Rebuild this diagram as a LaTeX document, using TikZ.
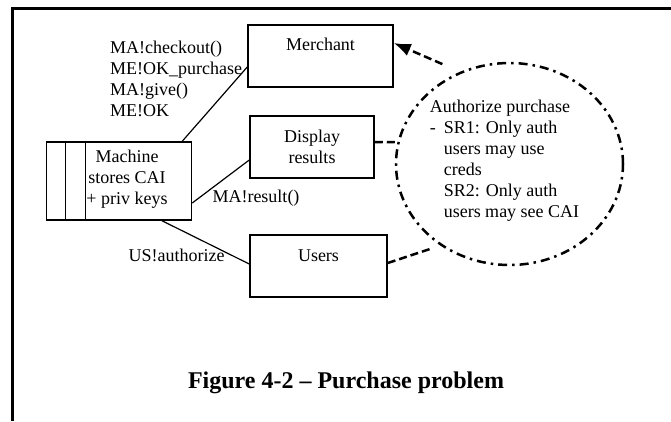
\documentclass[tikz,border=0pt]{standalone}
\usepackage{fontspec}
\setmainfont{Liberation Serif}
\usetikzlibrary{shapes,arrows,arrows.meta,positioning,calc}

\tikzset{
  box/.style={draw, rectangle, line width=1.5pt, inner sep=0pt},
  txt/.style={font=\fontsize{18}{21}\selectfont, inner sep=0pt},
  link/.style={line width=1.2pt},
  dashlink/.style={line width=2.5pt, dash pattern=on 8pt off 4pt},
  dashdot/.style={line width=2.5pt, dash pattern=on 9pt off 5pt on 2.5pt off 5pt},
}

\begin{document}
\begin{tikzpicture}[x=1pt, y=-1pt]
    \useasboundingbox (0,0) rectangle (671,421);
    % page frame
    \draw[line width=3pt] (12,421) -- (12,8) -- (671,8);

    \node[box, minimum width=145pt, minimum height=62pt,
          label={[txt, anchor=center, yshift=-20pt]north:Merchant}] (merchant) at (320.5,56) {};
    \node[box, txt, align=center, minimum width=124pt, minimum height=62pt] (display) at (312,147) {Display\\results};
    \node[box, minimum width=137pt, minimum height=62pt,
          label={[txt, anchor=center, yshift=-21pt]north:Users}] (users) at (318.5,266) {};

    \node[box, minimum width=145pt, minimum height=78pt,
          label={[txt, align=center, xshift=8pt, yshift=2pt]center:Machine\\stores CAI\\+ priv keys}] (machine) at (119,181) {};
    \draw[line width=1.5pt] ([xshift=19.5pt]machine.north west) -- ([xshift=19.5pt]machine.south west);
    \draw[line width=1.5pt] ([xshift=39.5pt]machine.north west) -- ([xshift=39.5pt]machine.south west);

    \node[draw, ellipse, dashdot, inner sep=0pt, minimum width=227pt, minimum height=202pt,
          label={[txt, align=left, xshift=-5pt, yshift=3pt]center:Authorize purchase\\
            \makebox[14pt][l]{-}SR1: Only auth\\
            \hspace*{14pt}users may use\\
            \hspace*{14pt}creds\\
            \hspace*{14pt}SR2: Only auth\\
            \hspace*{14pt}users may see CAI}] (auth) at (509.5,164) {};

    % messages
    \draw[link] ([xshift=-10pt]machine.north east) -- ([yshift=-11pt]merchant.west);
    \draw[link] ([yshift=-22pt]machine.east) -- ([yshift=-13pt]display.west);
    \draw[link] ([xshift=43pt]machine.south) -- ([yshift=2pt]users.west);
    \node[txt, align=left, anchor=west] (merchmsg) at (110,78.5) {MA!checkout()\\ME!OK\_purchase\\MA!give()\\ME!OK};
    \node[txt] (resultmsg) at (256,198) {MA!result()};
    \node[txt] (usermsg) at (176.5,255) {US!authorize};

    % requirement links
    \draw[dashlink, -{Latex[length=17pt, width=13pt]}] ([yshift=17pt]auth.129) -- ([yshift=13pt]merchant.east);
    \draw[dashlink] ([yshift=5pt]display.east) -- (auth.169);
    \draw[dashlink] ([yshift=3pt]users.east) -- ([yshift=-11pt]auth.223);

    \node[font=\bfseries\fontsize{24}{28}\selectfont] (caption) at (346,383) {Figure 4-2 -- Purchase problem};
\end{tikzpicture}
\end{document}
